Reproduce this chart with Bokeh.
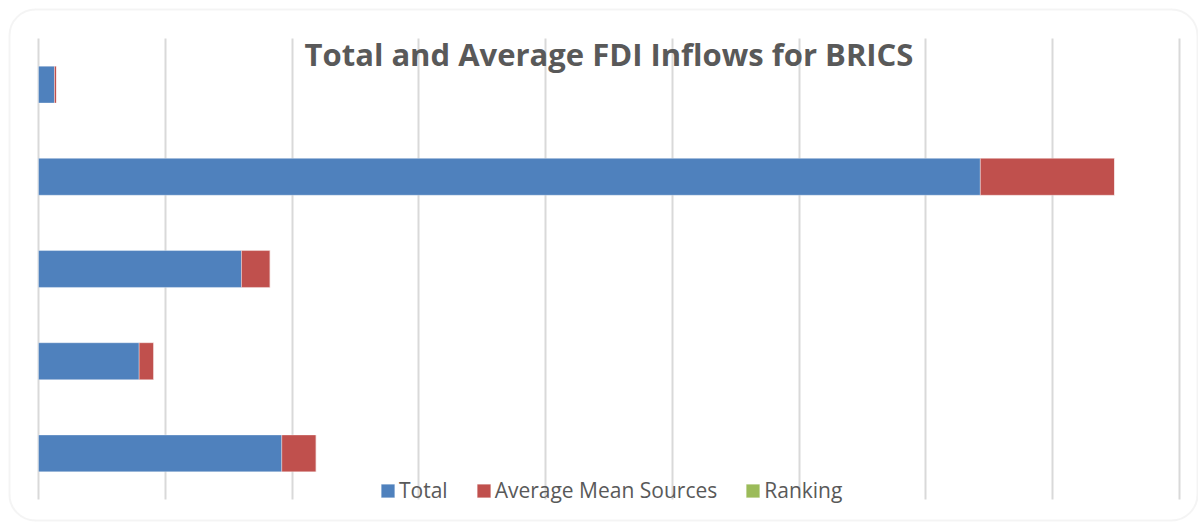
from bokeh.plotting import figure
from bokeh.models import (ColumnDataSource, FixedTicker, Label, Legend, LegendItem,
                          Range1d, BoxAnnotation)
from bokeh.embed import file_html
from bokeh.resources import INLINE

# ---- data (values in US$ million) ----
categories = ["Brazil", "Russia", "India", "China", "South Africa"]
total = [191900, 79400, 160100, 742900, 12600]
average_mean_sources = [27100, 11500, 22600, 105900, 1600]
ranking = [2, 4, 3, 1, 5]
series = ["Total", "Average Mean Sources", "Ranking"]
colors = ["#4F81BD", "#C0504D", "#9BBB59"]
x_ticks = [0, 100000, 200000, 300000, 400000, 500000, 600000, 700000, 800000, 900000]
title_text = "Total and Average FDI Inflows for BRICS"

# ---- layout (pixels inside the canvas) ----
W, H = 1198, 522
plot_l, plot_r, plot_t, plot_b = 38, 1179, 38, 499
n_cat = len(categories)
sx = (x_ticks[-1] - x_ticks[0]) / (plot_r - plot_l)
sy = n_cat / (plot_b - plot_t)
x_start = x_ticks[0] - plot_l * sx
x_end = x_ticks[-1] + (W - plot_r) * sx
y_start = 0 - (H - plot_b) * sy
y_end = n_cat + plot_t * sy


def cx(px):
    return x_start + px * sx


def cy(py):
    return y_end - py * sy


y_pos = [i + 0.5 for i in range(n_cat)]
source = ColumnDataSource(dict(category=categories, y=y_pos, Total=total,
                               **{"Average Mean Sources": average_mean_sources},
                               Ranking=ranking))

p = figure(width=W, height=H, x_range=Range1d(x_start, x_end),
           y_range=Range1d(y_start, y_end),
           output_backend="svg", toolbar_location=None, min_border=0)
p.outline_line_color = None
p.background_fill_color = "white"
p.border_fill_color = "white"

renderers = p.hbar_stack(series, y="y", height=0.4, source=source,
                         fill_color=colors, line_color="white", line_alpha=0.35, line_width=1)

p.xaxis.visible = False
p.yaxis.visible = False
p.ygrid.visible = False
p.xgrid.ticker = FixedTicker(ticks=x_ticks)
p.xgrid.grid_line_color = "#d9d9d9"
p.xgrid.grid_line_width = 2
p.xgrid.cross_bounds = (0, n_cat)
p.xgrid.level = "underlay"

# rounded chart-area border
frame_box = BoxAnnotation(left=cx(9), right=cx(1197), top=cy(9), bottom=cy(520),
                          fill_color=None, line_color="#d9d9d9", line_width=2,
                          border_radius=26, level="overlay")
p.add_layout(frame_box)

title = Label(x=(x_ticks[0] + x_ticks[-1]) / 2, y=cy(53), text=title_text,
              text_align="center", text_baseline="alphabetic",
              text_font="Open Sans", text_font_style="bold",
              text_font_size="31px", text_color="#595959")
p.add_layout(title)

legend = Legend(items=[LegendItem(label=s, renderers=[r]) for s, r in zip(series, renderers)],
                orientation="horizontal", location=(379, 18), padding=0, margin=0,
                spacing=27, label_standoff=3, glyph_width=17, glyph_height=17,
                label_text_font="Open Sans", label_text_font_size="21px",
                label_text_color="#595959", background_fill_alpha=0,
                border_line_color=None)
p.add_layout(legend, "center")

open("out.html", "w").write(file_html(p, INLINE))
